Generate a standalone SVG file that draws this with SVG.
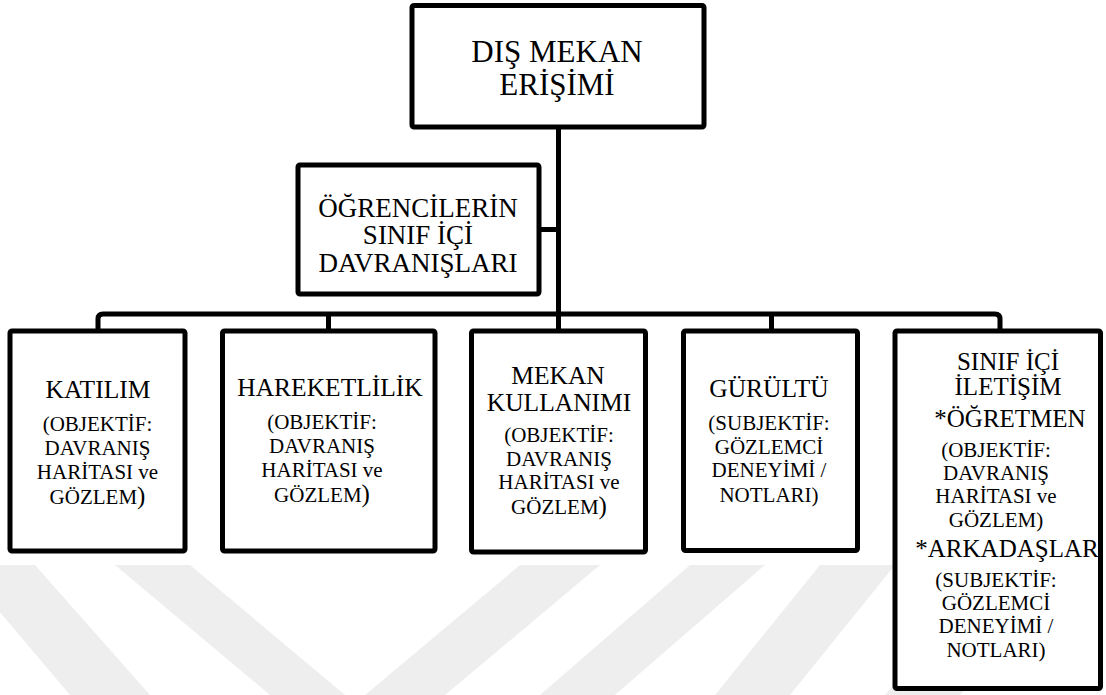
<svg xmlns="http://www.w3.org/2000/svg" width="1106" height="695" viewBox="0 0 1106 695">
<style>
.box{fill:#fff;stroke:#000;stroke-width:5}
.wm{fill:#eeeeee}
.conn{fill:none;stroke:#000;stroke-width:5;stroke-linejoin:round}
text{font-family:"Liberation Serif","Times New Roman",serif;fill:#000;text-anchor:middle}
.big{font-size:31px}
.mid{font-size:27px}
.ttl{font-size:25.5px}
.ttl2{font-size:25px}
.sub{font-size:21px}
</style>
<rect width="1106" height="695" fill="#fff"/>
<g id="watermark">
<polygon class="wm" points="-40,565 35,565 150,695 70,695"/>
<polygon class="wm" points="115,565 190,565 345,695 270,695"/>
<polygon class="wm" points="520,565 600,565 445,695 365,695"/>
<polygon class="wm" points="690,565 765,565 615,695 540,695"/>
<polygon class="wm" points="820,565 895,565 790,695 715,695"/>
<polygon class="wm" points="990,565 1065,565 960,695 885,695"/>
</g>
<g id="connectors">
<path class="conn" d="M558.5,127 V331"/>
<path class="conn" d="M539,229.5 H558.5"/>
<path class="conn" d="M98,331 V319 Q98,314 103,314 H995 Q1000,314 1000,319 V331"/>
<path class="conn" d="M328.5,314 V331"/>
<path class="conn" d="M771.5,314 V331"/>
</g>
<g id="dis-mekan">
<rect class="box" x="412" y="5.5" width="292" height="121.5" rx="2"/>
<text class="big" x="557" y="62">DIŞ MEKAN</text>
<text class="big" x="557" y="95">ERİŞİMİ</text>
</g>
<g id="ogrenciler">
<rect class="box" x="298" y="165" width="241" height="129" rx="2"/>
<text class="mid" x="418" y="216.5">ÖĞRENCİLERİN</text>
<text class="mid" x="418" y="244">SINIF İÇİ</text>
<text class="mid" x="418" y="271.5">DAVRANIŞLARI</text>
</g>
<g id="katilim">
<rect class="box" x="10" y="331" width="175" height="220" rx="2"/>
<text class="ttl" x="98" y="397.5">KATILIM</text>
<text class="sub" x="97.5" y="431">(OBJEKTİF:</text>
<text class="sub" x="97.5" y="455">DAVRANIŞ</text>
<text class="sub" x="97.5" y="478.5">HARİTASI ve</text>
<text class="sub" x="97.5" y="504">GÖZLEM<tspan font-size="25">)</tspan></text>
</g>
<g id="hareketlilik">
<rect class="box" x="222.5" y="331" width="212.5" height="220" rx="2"/>
<text class="ttl" x="330" y="396">HAREKETLİLİK</text>
<text class="sub" x="322" y="429">(OBJEKTİF:</text>
<text class="sub" x="322" y="453">DAVRANIŞ</text>
<text class="sub" x="322" y="477">HARİTASI ve</text>
<text class="sub" x="322" y="502">GÖZLEM<tspan font-size="25">)</tspan></text>
</g>
<g id="mekan-kullanimi">
<rect class="box" x="471.5" y="331" width="174" height="221" rx="2"/>
<text class="ttl" x="558" y="384">MEKAN</text>
<text class="ttl" x="559" y="411">KULLANIMI</text>
<text class="sub" x="559" y="441.5">(OBJEKTİF:</text>
<text class="sub" x="559" y="465.5">DAVRANIŞ</text>
<text class="sub" x="559" y="489">HARİTASI ve</text>
<text class="sub" x="559" y="514">GÖZLEM<tspan font-size="25">)</tspan></text>
</g>
<g id="gurultu">
<rect class="box" x="683.5" y="331" width="174" height="219.5" rx="2"/>
<text class="ttl" x="769" y="397">GÜRÜLTÜ</text>
<text class="sub" x="769" y="430">(SUBJEKTİF:</text>
<text class="sub" x="769" y="453.5">GÖZLEMCİ</text>
<text class="sub" x="769" y="477">DENEYİMİ /</text>
<text class="sub" x="769" y="502">NOTLARI)</text>
</g>
<g id="sinif-ici-iletisim">
<rect class="box" x="895" y="331" width="205.5" height="357.5" rx="2"/>
<text class="ttl2" x="1008" y="369.5">SINIF İÇİ</text>
<text class="ttl2" x="1008" y="394.5">İLETİŞİM</text>
<text class="ttl2" x="1010" y="426.5">*ÖĞRETMEN</text>
<text class="sub" x="996" y="456.5">(OBJEKTİF:</text>
<text class="sub" x="996" y="480">DAVRANIŞ</text>
<text class="sub" x="996" y="503">HARİTASI ve</text>
<text class="sub" x="996" y="526.5">GÖZLEM)</text>
<text class="ttl2" x="1007" y="556.5">*ARKADAŞLAR</text>
<text class="sub" x="996" y="586.5">(SUBJEKTİF:</text>
<text class="sub" x="996" y="610">GÖZLEMCİ</text>
<text class="sub" x="996" y="633">DENEYİMİ /</text>
<text class="sub" x="996" y="656.5">NOTLARI)</text>
</g>
</svg>
